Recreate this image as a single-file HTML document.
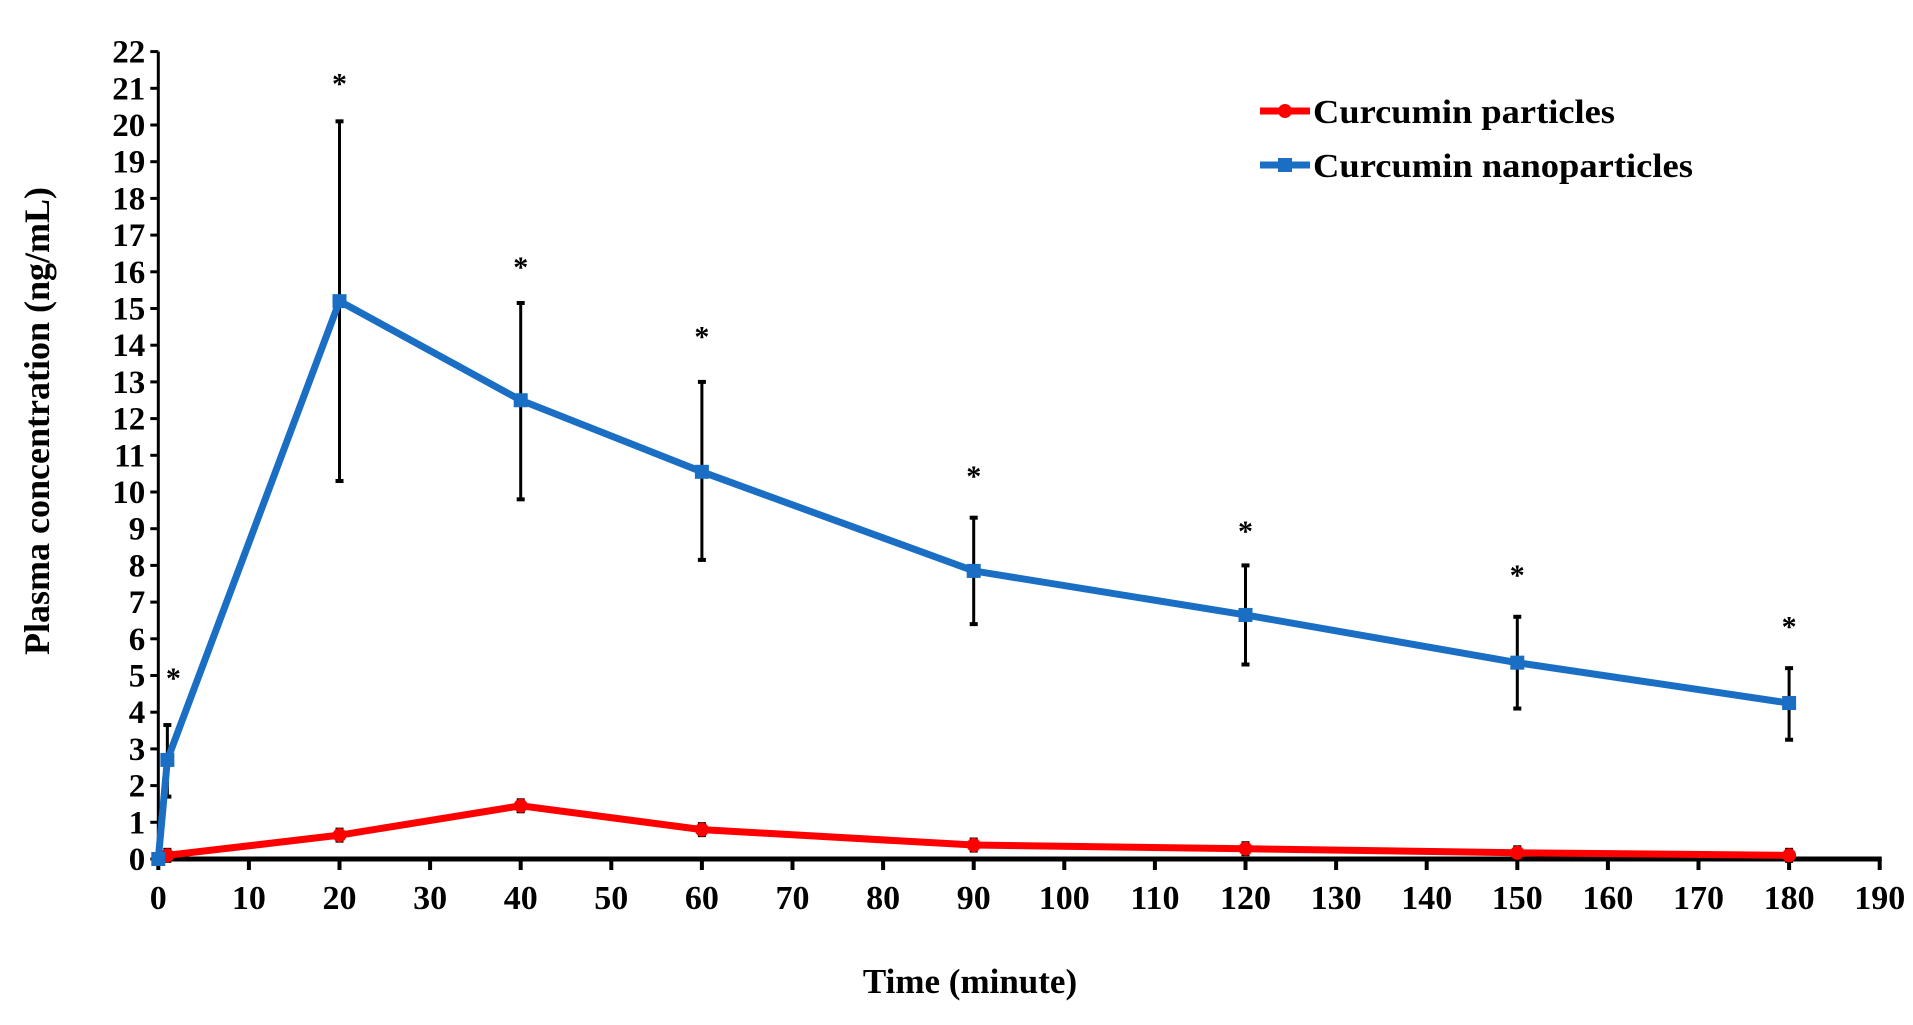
<!DOCTYPE html>
<html><head><meta charset="utf-8"><style>
html,body{margin:0;padding:0;background:#fff;}
svg{display:block;font-family:"Liberation Serif",serif;font-weight:bold;}
</style></head><body>
<svg id="s" width="1913" height="1025" xmlns="http://www.w3.org/2000/svg"></svg>
<script>
const s=document.getElementById('s');
const X0=158.3,XS=9.06,Y0=859,YS=36.7;
const X=v=>X0+v*XS, Y=v=>Y0-v*YS;
let h='';
h+=`<line x1="${X0}" y1="${Y(22)}" x2="${X0}" y2="${Y0}" stroke="#000" stroke-width="3"/>`;
for(let i=0;i<=22;i++){h+=`<line x1="${X0-8}" y1="${Y(i)}" x2="${X0}" y2="${Y(i)}" stroke="#000" stroke-width="3"/>`;
h+=`<text x="${X0-13}" y="${Y(i)+11}" font-size="33" text-anchor="end">${i}</text>`;}
h+=`<line x1="${X0}" y1="${Y0}" x2="${X(190)+2}" y2="${Y0}" stroke="#000" stroke-width="5"/>`;
for(let i=0;i<=190;i+=10){h+=`<line x1="${X(i)}" y1="${Y0}" x2="${X(i)}" y2="${Y0+11}" stroke="#000" stroke-width="4"/>`;
h+=`<text x="${X(i)}" y="${Y0+50}" font-size="34" text-anchor="middle">${i}</text>`;}
h+=`<text x="970" y="993" font-size="35" text-anchor="middle">Time (minute)</text>`;
h+=`<text transform="translate(49,421) rotate(-90)" font-size="36" text-anchor="middle">Plasma concentration (ng/mL)</text>`;
const blue=[[0,0],[1,2.7,1.7,3.65],[20,15.2,10.3,20.1],[40,12.5,9.8,15.15],[60,10.55,8.15,13],[90,7.85,6.4,9.3],[120,6.65,5.3,8],[150,5.35,4.1,6.6],[180,4.25,3.25,5.2]];
const stars=[[1,5.1],[20,21.3],[40,16.3],[60,14.4],[90,10.6],[120,9.1],[150,7.9],[180,6.5]];
const red=[[0,0],[1,0.1],[20,0.65],[40,1.45],[60,0.8],[90,0.38],[120,0.28],[150,0.17],[180,0.1]];
function eb(x,lo,hi){const xx=X(x);return `<line x1="${xx}" y1="${Y(lo)}" x2="${xx}" y2="${Y(hi)}" stroke="#000" stroke-width="3"/><line x1="${xx-4}" y1="${Y(lo)}" x2="${xx+4}" y2="${Y(lo)}" stroke="#000" stroke-width="4"/><line x1="${xx-4}" y1="${Y(hi)}" x2="${xx+4}" y2="${Y(hi)}" stroke="#000" stroke-width="4"/>`;}
blue.forEach(p=>{if(p.length>2)h+=eb(p[0],p[2],p[3]);});
red.forEach(p=>{if(p[0]>0)h+=eb(p[0],p[1]-0.15,p[1]+0.15);});
h+=`<polyline points="${red.map(p=>X(p[0])+','+Y(p[1])).join(' ')}" fill="none" stroke="#f00" stroke-width="7"/>`;
red.forEach(p=>{h+=`<circle cx="${X(p[0])}" cy="${Y(p[1])}" r="7" fill="#f00"/>`;});
h+=`<polyline points="${blue.map(p=>X(p[0])+','+Y(p[1])).join(' ')}" fill="none" stroke="#1a6fc4" stroke-width="7"/>`;
blue.forEach(p=>{h+=`<rect x="${X(p[0])-7}" y="${Y(p[1])-7}" width="14" height="14" fill="#1a6fc4"/>`;});
stars.forEach(p=>{h+=`<text x="${X(p[0])+(p[0]==1?6:0)}" y="${Y(p[1])+16}" font-size="30" text-anchor="middle">*</text>`;});
h+=`<line x1="1260" y1="111" x2="1310" y2="111" stroke="#f00" stroke-width="7"/><circle cx="1285" cy="111" r="7" fill="#f00"/>`;
h+=`<text x="1313" y="123" font-size="34" textLength="302" lengthAdjust="spacingAndGlyphs">Curcumin particles</text>`;
h+=`<line x1="1260" y1="165" x2="1310" y2="165" stroke="#1a6fc4" stroke-width="7"/><rect x="1278" y="158" width="14" height="14" fill="#1a6fc4"/>`;
h+=`<text x="1313" y="177" font-size="34" textLength="380" lengthAdjust="spacingAndGlyphs">Curcumin nanoparticles</text>`;
s.innerHTML=h;
</script>
</body></html>
